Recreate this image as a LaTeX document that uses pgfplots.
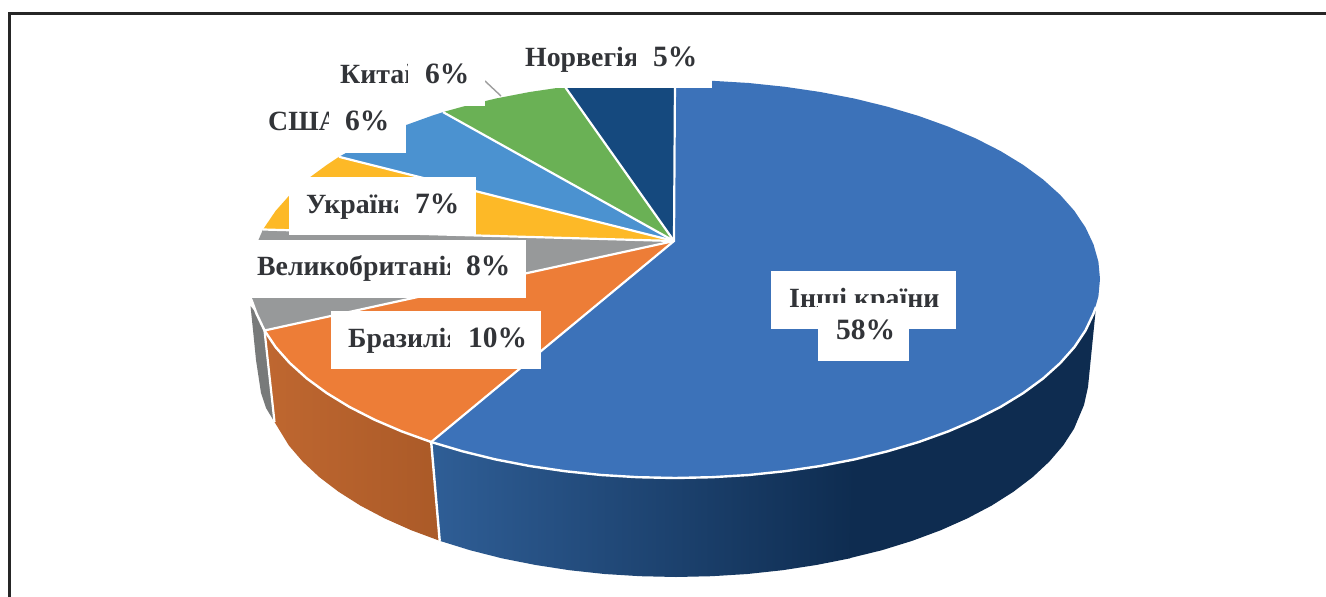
\documentclass[border=0pt]{standalone}
\usepackage{pgfplots}
\pgfplotsset{compat=1.18}
\usepackage{fontspec}
\setmainfont{Liberation Serif}
\definecolor{cBlue}{RGB}{60,114,185}
\definecolor{cOrange}{RGB}{237,125,55}
\definecolor{cGray}{RGB}{151,153,154}
\definecolor{cYellow}{RGB}{253,185,39}
\definecolor{cSky}{RGB}{75,146,208}
\definecolor{cGreen}{RGB}{106,177,85}
\definecolor{cNavy}{RGB}{21,73,126}
\definecolor{cText}{RGB}{50,52,56}
\newcommand{\lab}[3]{\node[anchor=base west,inner sep=0pt,text=cText,font=\fontsize{27.8}{30}\selectfont\bfseries] at (axis cs:#1,#2) {#3};}
\newcommand{\labp}[3]{\node[anchor=base west,inner sep=0pt,text=cText,font=\fontsize{29.5}{30}\selectfont\bfseries] at (axis cs:#1,#2) {#3};}
\newcommand{\wbox}[4]{\fill[white] (axis cs:#1,#2) rectangle (axis cs:#3,#4);}
\begin{document}
\begin{tikzpicture}
\begin{axis}[hide axis,scale only axis,width=1326pt,height=597pt,
  xmin=0,xmax=1326,ymin=0,ymax=597,y dir=reverse,clip=true]
\addplot[fill=white,draw=none] coordinates {(0,0)(1326,0)(1326,597)(0,597)} --cycle;
% frame
\addplot[draw=black!85,line width=3pt] coordinates {(9.5,597)(9.5,13)(1326,13)};
% sides
\addplot[fill=cGray!75!black!95,draw=none] coordinates {(264.5,330.5)(256.5,313.6)(250.5,306)(253,330)(256,360)(261,393)(266,408)(274.5,422)} --cycle;
\addplot[left color=cOrange!80!black!98,right color=cOrange!72!black,draw=none] coordinates {(264.5,330.5)(275.6,347.1)(289.8,363.1)(306.9,378.5)(326.8,393.1)(349.4,406.9)(374.5,419.7)(401.8,431.4)(431.2,442.0)
 (439.7,540.8)(411.2,530.2)(384.7,518.4)(360.4,505.6)(338.5,491.7)(319.2,477)(302.6,461.5)(288.8,445.4)(274.5,422)} --cycle;
\addplot[left color={rgb,255:red,47;green,94;blue,150},right color={rgb,255:red,14;green,44;blue,80},draw=none] coordinates {(431.2,442.0)(462.5,451.3)(495.4,459.4)(529.6,466.0)(565.0,471.2)(601.2,475.0)(637.9,477.2)(675,478)(712.1,477.2)(748.8,475.0)(785.0,471.2)(820.4,466.0)(854.6,459.4)
 (850.1,558.3)(816.9,564.9)(782.6,570.2)(747.5,574)(711.9,576.2)(676,577)(640.1,576.2)(604.5,574)(569.4,570.2)(535.1,564.9)(501.9,558.3)(470,550.2)(439.7,540.8)} --cycle;
\addplot[fill={rgb,255:red,14;green,44;blue,80},draw=none] coordinates {(853,459.4)(887.5,451.3)(918.8,442.0)(948.2,431.4)(975.5,419.7)(1000.6,406.9)(1023.2,393.1)(1043.1,378.5)(1060.2,363.1)(1074.4,347.1)(1085.5,330.5)(1096,307)
 (1088,387)(1084,405)(1074,428.8)(1063.2,445.4)(1049.4,461.5)(1032.8,477)(1013.5,491.7)(991.6,505.6)(967.3,518.4)(940.8,530.2)(912.3,540.8)(882,550.2)(849,558.3)} --cycle;
% top wedges
\addplot[fill=cBlue,draw=none] coordinates {(674,241)(675,80)(712.1,80.8)(748.8,83)(785,86.8)(820.4,92)(854.6,98.6)(887.5,106.7)(918.8,116)(948.2,126.6)(975.5,138.3)(1000.6,151.1)(1023.2,164.9)(1043.1,179.5)(1060.2,194.9)(1074.4,210.9)(1085.5,227.5)(1093.5,244.4)(1098.4,261.7)(1100,279)(1098.4,296.3)(1093.5,313.6)(1085.5,330.5)(1074.4,347.1)(1060.2,363.1)(1043.1,378.5)(1023.2,393.1)(1000.6,406.9)(975.5,419.7)(948.2,431.4)(918.8,442.0)(887.5,451.3)(854.6,459.4)(820.4,466.0)(785.0,471.2)(748.8,475.0)(712.1,477.2)(675,478)(637.9,477.2)(601.2,475.0)(565.0,471.2)(529.6,466.0)(495.4,459.4)(462.5,451.3)(431.2,442.0)} --cycle;
\addplot[fill=cOrange,draw=none] coordinates {(674,241)(431.2,442.0)(401.8,431.4)(374.5,419.7)(349.4,406.9)(326.8,393.1)(306.9,378.5)(289.8,363.1)(275.6,347.1)(264.5,330.5)} --cycle;
\addplot[fill=cGray,draw=none] coordinates {(674,241)(264.5,330.5)(256.5,313.6)(251.6,296.3)(250,279)(251.6,261.7)(256.5,244.4)(263,229.5)} --cycle;
\addplot[fill=cYellow,draw=none] coordinates {(674,241)(263,229.5)(275.6,210.9)(289.8,194.9)(306.9,179.5)(326.8,164.9)(339,156.8)} --cycle;
\addplot[fill=cSky,draw=none] coordinates {(674,241)(339,156.8)(349.4,151.1)(374.5,138.3)(401.8,126.6)(431.2,116)(443,112.1)} --cycle;
\addplot[fill=cGreen,draw=none] coordinates {(674,241)(443,112.1)(462.5,106.7)(495.4,98.6)(529.6,92)(565,86.8)} --cycle;
\addplot[fill=cNavy,draw=none] coordinates {(674,241)(565,86.8)(601.2,83)(637.9,80.8)(675,80)} --cycle;
% separators
\addplot[white,line width=2.2pt] coordinates {(675,80)(674,241)(431.2,442)};
\addplot[white,line width=2.2pt] coordinates {(674,241)(264.5,330.5)};
\addplot[white,line width=2.2pt] coordinates {(674,241)(263,229.5)};
\addplot[white,line width=2.2pt] coordinates {(674,241)(339,156.8)};
\addplot[white,line width=2.2pt] coordinates {(674,241)(443,112.1)};
\addplot[white,line width=2.2pt] coordinates {(674,241)(565,86.8)};
\addplot[white,line width=2.4pt] coordinates {(431.2,442)(439.7,540.8)};
\addplot[white,line width=2.2pt] coordinates {(264.5,330.5)(274.5,422)};
\addplot[white,line width=2.4pt] coordinates {(1096,307)(1093.5,313.6)(1085.5,330.5)(1074.4,347.1)(1060.2,363.1)(1043.1,378.5)(1023.2,393.1)(1000.6,406.9)(975.5,419.7)(948.2,431.4)(918.8,442.0)(887.5,451.3)(854.6,459.4)(820.4,466.0)(785.0,471.2)(748.8,475.0)(712.1,477.2)(675,478)(637.9,477.2)(601.2,475.0)(565.0,471.2)(529.6,466.0)(495.4,459.4)(462.5,451.3)(431.2,442.0)(401.8,431.4)(374.5,419.7)(349.4,406.9)(326.8,393.1)(306.9,378.5)(289.8,363.1)(275.6,347.1)(264.5,330.5)(256.5,313.6)(251.5,300)};
% leader
\addplot[color=black!38,line width=1.4pt] coordinates {(485,81)(501,96)};
% label boxes
\wbox{505}{40}{712}{88}
\wbox{325}{50}{485}{106}
\wbox{258}{100}{406}{153}
\wbox{289}{177}{476}{235}
\wbox{240}{240}{526}{298}
\wbox{331}{311}{541}{369}
\wbox{771}{271}{956}{329}
% labels
\lab{525}{66}{Норвегія} \wbox{636}{40}{652}{80} \labp{653}{66}{5\%}
\lab{340}{83}{Китай} \wbox{408}{55}{424}{95} \labp{425}{83}{6\%}
\lab{268}{130}{США} \wbox{329}{105}{344}{140} \labp{345}{130}{6\%}
\lab{306}{213}{Україна} \wbox{398}{185}{414}{225} \labp{415}{213}{7\%}
\lab{257}{275}{Великобританія} \wbox{450}{245}{465}{290} \labp{466}{275}{8\%}
\lab{348}{347}{Бразилія} \wbox{450}{318}{467}{360} \labp{468}{347}{10\%}
\lab{789}{307}{Інші країни}
\wbox{818}{303}{909}{361}
\labp{836}{339}{58\%}
\end{axis}
\end{tikzpicture}
\end{document}
